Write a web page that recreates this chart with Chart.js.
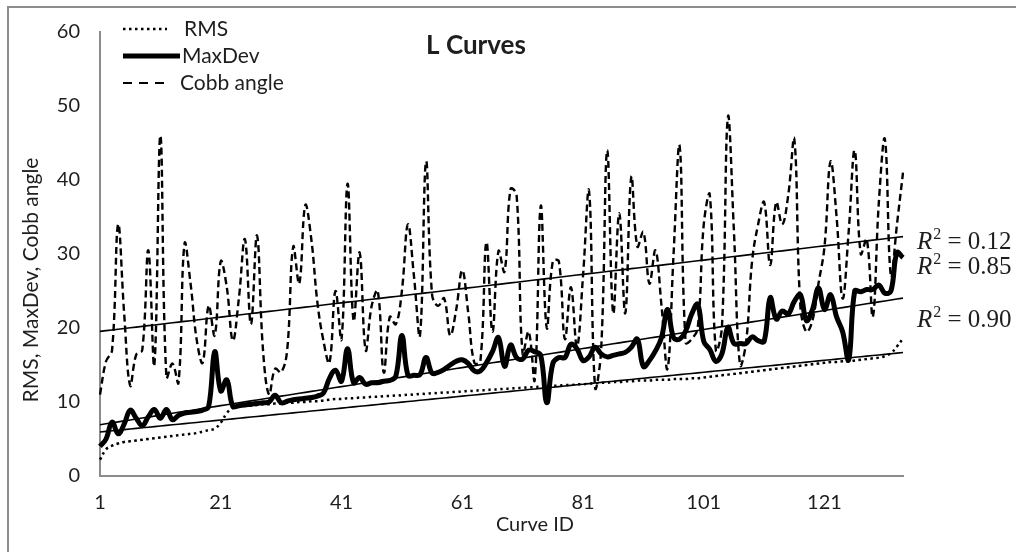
<!DOCTYPE html>
<html lang="en">
<head>
    <meta charset="UTF-8">
    <title>L Curves</title>
    <script src="https://cdn.jsdelivr.net/npm/chart.js"></script>
    <style>
        body, html {
            margin: 0;
            padding: 0;
            background: #ffffff;
        }

        .chart-container {
            position: relative;
            width: 1016px;
            height: 552px;
        }
    </style>
</head>
<body>
<div class="chart-container">
    <canvas id="lCurves" width="1016" height="552"></canvas>
</div>

<script>
    // Curve IDs 1..134 on the category axis
    const curveIds = Array.from({ length: 134 }, (_, i) => i + 1);
    const xTickLabels = [1, 21, 41, 61, 81, 101, 121];

    // RMS (dotted)
    const rms = [
        2.2, 3.6, 4.1, 4.4, 4.6, 4.7, 4.8, 4.9, 5.0, 5.1,
        5.2, 5.3, 5.4, 5.5, 5.6, 5.7, 5.8, 6.0, 6.2, 6.4,
        7.2, 8.5, 9.2, 9.4, 9.5, 9.5, 9.6, 9.7, 9.7, 9.8,
        9.8, 9.9, 9.9, 10.0, 10.0, 10.1, 10.1, 10.2, 10.3, 10.4,
        10.4, 10.5, 10.5, 10.6, 10.6, 10.7, 10.7, 10.8, 10.8, 10.9,
        10.9, 11.0, 11.0, 11.1, 11.1, 11.2, 11.2, 11.3, 11.3, 11.4,
        11.4, 11.5, 11.5, 11.6, 11.6, 11.7, 11.7, 11.8, 11.8, 11.9,
        11.9, 12.0, 12.0, 12.1, 12.1, 12.2, 12.2, 12.3, 12.3, 12.4,
        12.4, 12.5, 12.5, 12.6, 12.6, 12.7, 12.7, 12.8, 12.8, 12.9,
        12.9, 12.9, 13.0, 13.0, 13.0, 13.1, 13.1, 13.1, 13.2, 13.2,
        13.3, 13.4, 13.5, 13.6, 13.7, 13.8, 13.9, 14.0, 14.1, 14.2,
        14.3, 14.4, 14.5, 14.6, 14.7, 14.8, 14.9, 15.0, 15.1, 15.2,
        15.3, 15.4, 15.4, 15.5, 15.5, 15.6, 15.7, 15.8, 15.9, 16.0,
        16.2, 16.6, 17.5, 18.6
    ];

    // MaxDev (thick solid)
    const maxDev = [
        4.0, 5.0, 7.3, 5.7, 7.0, 8.9, 7.8, 6.8, 8.0, 9.0,
        7.8, 9.0, 7.6, 8.2, 8.5, 8.6, 8.7, 8.9, 9.4, 16.8,
        11.5, 13.0, 9.4, 9.5, 9.6, 9.7, 9.8, 9.9, 10.0, 10.9,
        9.9, 10.1, 10.3, 10.4, 10.5, 10.6, 10.8, 11.2, 13.2, 14.3,
        12.8, 17.2, 12.6, 13.3, 12.4, 12.6, 12.6, 12.8, 12.9, 13.5,
        19.0, 13.6, 13.6, 13.7, 16.0, 13.9, 14.0, 14.4, 15.0, 15.5,
        15.7, 15.2, 14.2, 14.2, 15.3, 16.8, 18.7, 14.8, 17.7, 16.0,
        15.8, 17.0, 16.8, 16.3, 9.9, 15.2, 16.0, 16.0, 17.8, 17.2,
        15.6, 16.1, 17.4, 16.5, 16.1, 16.3, 16.5, 16.7, 17.4, 18.5,
        14.8, 15.6, 16.9, 18.7, 22.5, 18.7, 18.5, 19.6, 21.9, 23.2,
        18.2, 17.1, 15.5, 16.5, 20.1, 17.9, 17.9, 17.9, 18.8, 18.3,
        18.2, 24.1, 21.2, 22.3, 21.9, 23.6, 24.5, 21.0, 22.5, 25.4,
        22.5, 24.5, 21.5, 19.5, 15.7, 25.0, 24.9, 25.2, 25.2, 25.8,
        24.7, 25.0, 30.2, 29.5
    ];

    // Cobb angle (dashed)
    const cobbAngle = [
        11, 15.5, 17, 34, 22, 12.2, 16.4, 17, 30.5, 15,
        46, 13.3, 15.2, 12.6, 31.4, 26, 18.5, 15.3, 23, 19,
        29, 25.5, 18.3, 24, 32, 20.5, 32.5, 17, 11, 14.5,
        14, 17, 31, 26, 36.6, 32, 23.5, 18.3, 15.3, 25,
        18.5, 39.5, 21, 30.2, 17, 23, 25, 14, 21.5, 20.5,
        25, 34, 27, 19, 42.5, 24.5, 23, 24, 19, 22.5,
        27.8, 22, 15.3, 15.5, 31.6, 19.5, 30.4, 27.6, 38.8, 38,
        16.5, 19.5, 13, 36.5, 20, 29, 29, 18.5, 25.5, 17.5,
        27, 38.5, 12, 17, 44, 22, 35.5, 22, 40.4, 31,
        33, 26, 30.5, 23, 14.5, 30, 44.6, 18, 18.5, 20,
        34, 38, 17, 20, 48.5, 33, 15, 18, 29, 34,
        37, 28.5, 37, 34, 38, 45.5, 23, 19.5, 21, 26,
        31, 42.5, 35, 24, 33, 44, 30, 32, 21.5, 37,
        45.5, 27, 34, 41
    ];

    // R squared of the linear trend lines
    const rSquared = { cobb: '0.12', maxDev: '0.85', rms: '0.90' };

    // least squares line over curve IDs
    function trendLine(values) {
        const n = values.length;
        let sx = 0, sy = 0, sxy = 0, sxx = 0;
        values.forEach((v, i) => {
            const x = i + 1;
            sx += x; sy += v; sxy += x * v; sxx += x * x;
        });
        const b = (n * sxy - sx * sy) / (n * sxx - sx * sx);
        const a = (sy - b * sx) / n;
        return values.map((_, i) => a + b * (i + 1));
    }

    const textColor = '#1e1e1e';
    const axisColor = '#8c8c8c';

    // title, axis titles, legend, R2 labels and the outer frame
    const decorations = {
        id: 'decorations',
        afterDraw(chart) {
            const ctx = chart.ctx;
            ctx.save();

            // frame (only left and top edges are visible)
            ctx.strokeStyle = axisColor;
            ctx.lineWidth = 2;
            ctx.beginPath();
            ctx.moveTo(8, 552);
            ctx.lineTo(8, 7);
            ctx.lineTo(1016, 7);
            ctx.stroke();

            ctx.fillStyle = textColor;
            ctx.textAlign = 'center';
            ctx.textBaseline = 'middle';
            ctx.font = 'bold 26px Lato';
            ctx.fillText('L Curves', 476, 46);

            ctx.font = '20px Lato';
            ctx.fillText('Curve ID', 535, 525);
            ctx.font = '21px Lato';
            ctx.save();
            ctx.translate(31, 280);
            ctx.rotate(-Math.PI / 2);
            ctx.fillText('RMS, MaxDev, Cobb angle', 0, 0);
            ctx.restore();

            // legend
            const items = [
                { label: 'RMS', y: 29, x1: 123, x2: 167, tx: 184, width: 2.5, dash: [2.5, 3.5] },
                { label: 'MaxDev', y: 56, x1: 123, x2: 180, tx: 182, width: 5, dash: [] },
                { label: 'Cobb angle', y: 83, x1: 123, x2: 164, tx: 180, width: 2.2, dash: [9, 7] }
            ];
            ctx.textAlign = 'left';
            ctx.font = '21px Lato';
            items.forEach(it => {
                ctx.strokeStyle = '#000';
                ctx.lineWidth = it.width;
                ctx.setLineDash(it.dash);
                ctx.beginPath();
                ctx.moveTo(it.x1, it.y);
                ctx.lineTo(it.x2, it.y);
                ctx.stroke();
                ctx.fillText(it.label, it.tx, it.y);
            });
            ctx.setLineDash([]);

            // R2 labels
            const drawR2 = (x, base, value) => {
                ctx.textBaseline = 'alphabetic';
                ctx.font = 'italic 25px "Liberation Serif"';
                ctx.fillText('R', x, base);
                let cx = x + ctx.measureText('R').width + 1;
                ctx.font = '16px "Liberation Serif"';
                ctx.fillText('2', cx, base - 10);
                cx += ctx.measureText('2').width;
                ctx.font = '25px "Liberation Serif"';
                ctx.fillText(' = ' + value, cx, base);
            };
            drawR2(917, 249, rSquared.cobb);
            drawR2(917, 274, rSquared.maxDev);
            drawR2(917, 327, rSquared.rms);

            ctx.restore();
        }
    };

    const lineBase = { pointRadius: 0, borderColor: '#000', fill: false };

    const ctx = document.getElementById('lCurves').getContext('2d');
    const lChart = new Chart(ctx, {
        type: 'line',
        data: {
            labels: curveIds,
            datasets: [
                { ...lineBase, label: 'MaxDev', data: maxDev, borderWidth: 5, tension: 0.4 },
                { ...lineBase, label: 'RMS', data: rms, borderWidth: 2.5, borderDash: [2.5, 3.5], tension: 0.4 },
                { ...lineBase, label: 'Cobb angle', data: cobbAngle, borderWidth: 2.4, borderDash: [7, 4], tension: 0.4 },
                { ...lineBase, label: 'Cobb trend', data: trendLine(cobbAngle), borderWidth: 1.6, tension: 0 },
                { ...lineBase, label: 'MaxDev trend', data: trendLine(maxDev), borderWidth: 1.6, tension: 0 },
                { ...lineBase, label: 'RMS trend', data: trendLine(rms), borderWidth: 1.6, tension: 0 }
            ]
        },
        options: {
            responsive: false,
            devicePixelRatio: 1,
            animation: false,
            layout: {
                padding: { left: 0, top: 20, right: 113, bottom: 0 }
            },
            scales: {
                x: {
                    type: 'category',
                    offset: false,
                    grid: { display: false, drawTicks: false },
                    border: { display: true, color: axisColor, width: 2 },
                    ticks: {
                        autoSkip: false,
                        maxRotation: 0,
                        padding: 15,
                        color: textColor,
                        font: { family: 'Lato', size: 20 },
                        callback: function (value) {
                            const lab = this.getLabelForValue(value);
                            return xTickLabels.includes(lab) ? String(lab) : null;
                        }
                    },
                    afterFit: scale => { scale.height = 76; }
                },
                y: {
                    min: 0,
                    max: 60,
                    grid: { display: false, drawTicks: false },
                    border: { display: true, color: axisColor, width: 2 },
                    ticks: {
                        stepSize: 10,
                        padding: 20,
                        color: textColor,
                        font: { family: 'Lato', size: 20 }
                    },
                    afterFit: scale => { scale.width = 100; }
                }
            },
            plugins: {
                legend: { display: false },
                tooltip: { enabled: false }
            }
        },
        plugins: [decorations]
    });
</script>
</body>
</html>
